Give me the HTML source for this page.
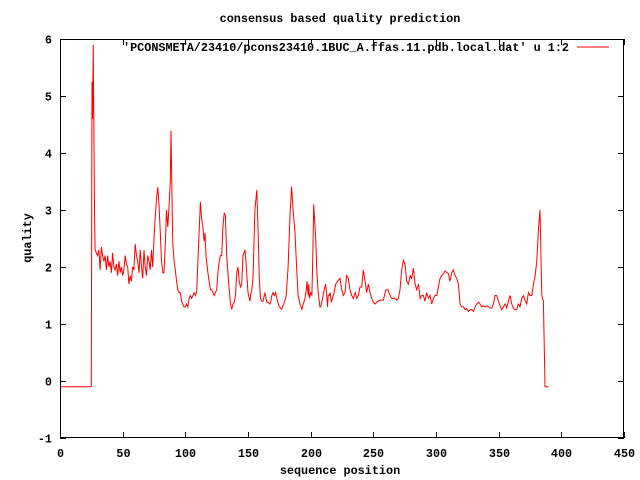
<!DOCTYPE html>
<html><head><meta charset="utf-8"><style>
html,body{margin:0;padding:0;background:#fff;}
svg{display:block;font-family:"Liberation Mono",monospace;font-size:11.8px;font-weight:bold;}
</style></head><body>
<svg id="chart" width="640" height="480" viewBox="0 0 640 480" xmlns="http://www.w3.org/2000/svg">
<rect x="0" y="0" width="640" height="480" fill="#fff"/>
<text x="340" y="22" text-anchor="middle">consensus based quality prediction</text>
<text x="340" y="474" text-anchor="middle">sequence position</text>
<text x="31" y="238" text-anchor="middle" transform="rotate(-90 31 238)">quality</text>
<g id="axes"></g>
<g id="series"></g>
<text x="569" y="51" text-anchor="end">'PCONSMETA/23410/pcons23410.1BUC_A.ffas.11.pdb.local.dat' u 1:2</text>
<line x1="577" y1="47" x2="609" y2="47" stroke="#f00" stroke-width="1"/>
<rect x="60.5" y="39.5" width="563" height="398" fill="none" stroke="#000" stroke-width="1"/>
</svg>
<script>
const xTicks=[0,50,100,150,200,250,300,350,400,450];
const yTicks=[-1,0,1,2,3,4,5,6];
const xs=[0,25,25.5,26,26.5,27,27.5,28,29,30,31,32,33,34,35,36,37,38,39,40,41,42,43,44,45,46,47,48,49,50,51,52,53,54,55,56,57,58,59,60,61,62,63,64,65,66,67,68,69,70,71,72,73,74,75,76,77,78,79,80,81,82,83,84,85,86,87,88,88.6,89.5,90,91,92,93,94,95,96,97,98,99,100,101,102,103,104,105,106,107,108,109,110,111,112,113,114,115,115.7,116.5,117,118,119,120,121,122,123,124,125,126,127,128,129,130,131,132,133,134,135,136,137,138,139,140,141,142,143,144,145,146,147.6,149,150,151.6,152,153,154,155.5,157,158,159,160,161,162,163.5,165,166,167.5,168.3,169,170,171,172,173.5,175,176.8,177.5,179,180.5,182,183.5,184.8,186,187.5,188.8,190,191.5,193,194.5,195.5,196.5,197,198,198.5,199,200,201,201.7,202.4,204,205,206,207.4,208,209.5,210.7,212,212.8,213.5,214,214.8,215.6,216.5,217.3,218.7,220,221.5,223.4,224.8,226,227.4,228.7,230,231.4,232.7,234,235.5,236.8,238,239.4,240.7,242,243.4,244.6,246,247.4,248.7,250,251.4,252.7,254,255.3,256.6,258,258.8,260.1,261.7,263.3,264.6,266,267.3,268.6,269.9,271.3,272.6,274,275.3,276.6,278,279.3,280.6,282,283.3,284.6,286,287.3,288.6,289.9,291.2,292.5,293.9,295.2,296.6,297.9,299.2,300.6,301.9,303.2,304.5,305.9,307.2,309.9,311.2,312.5,313.8,315.2,316.5,317.9,319.2,320.5,321.9,323.2,324.5,325.9,327.2,328.5,329.9,331.2,332.5,333.9,335.2,336.5,337.8,339.2,340.5,341.8,343.1,344.5,345.8,347.1,348.4,349.8,351.1,352.4,353.8,355.1,356.4,357.8,359.1,360.4,361.7,363,364.4,365.7,367,368.4,369.7,371,372.4,373.7,375,376.4,377.8,379.1,380.4,381.7,383,384.4,385.7,387,388.4,389.7,391,392.3,393.7,395,395.5,396,396.5,397,397.5,398,399,400];
const ys=[-0.1,-0.1,5.25,4.6,5.9,4.6,3.0,2.3,2.25,2.2,2.3,1.95,2.35,2.2,2.1,2.2,1.95,2.2,2.0,2.1,1.9,2.25,2.0,1.95,2.05,1.85,2.1,1.9,2.0,1.85,1.95,2.2,2.05,2.0,1.7,1.85,1.75,2.0,1.95,2.4,2.2,2.1,1.9,2.3,2.0,1.8,2.3,2.0,1.85,2.2,2.1,1.95,2.3,2.0,2.5,2.9,3.2,3.4,3.1,2.6,2.1,1.9,1.9,2.4,3.0,2.7,3.05,3.5,4.39,3.0,2.4,2.1,1.95,1.75,1.6,1.55,1.55,1.4,1.35,1.3,1.3,1.35,1.3,1.45,1.5,1.45,1.5,1.55,1.5,1.55,2.1,2.6,3.14,2.85,2.7,2.45,2.6,2.2,2.1,1.9,1.75,1.6,1.6,1.55,1.5,1.55,1.6,1.9,2.1,2.2,2.2,2.7,2.95,2.9,2.2,1.9,1.6,1.35,1.26,1.35,1.38,1.5,1.9,2.0,1.75,1.65,1.7,2.2,2.3,1.9,1.55,1.4,1.5,1.6,1.8,3.0,3.35,2.7,1.8,1.45,1.4,1.4,1.55,1.38,1.38,1.35,1.4,1.5,1.55,1.5,1.55,1.4,1.3,1.26,1.3,1.38,1.5,2.0,2.9,3.41,3.0,2.6,2.0,1.5,1.35,1.26,1.38,1.45,1.6,1.75,1.5,1.7,1.45,1.55,1.5,2.2,3.1,2.5,1.9,1.55,1.3,1.3,1.45,1.6,1.7,1.5,1.3,1.5,1.5,1.55,1.38,1.45,1.55,1.7,1.75,1.8,1.6,1.5,1.55,1.85,1.8,1.6,1.5,1.45,1.55,1.45,1.5,1.65,1.65,1.95,1.75,1.55,1.7,1.55,1.45,1.38,1.35,1.38,1.4,1.42,1.42,1.42,1.5,1.6,1.6,1.5,1.45,1.45,1.45,1.42,1.45,1.6,1.95,2.12,2.05,1.75,1.7,1.85,1.8,1.98,1.7,1.6,1.7,1.45,1.5,1.5,1.4,1.55,1.45,1.5,1.35,1.45,1.5,1.5,1.65,1.8,1.85,1.88,1.93,1.88,1.75,1.9,1.95,1.85,1.8,1.7,1.35,1.3,1.3,1.25,1.27,1.22,1.25,1.25,1.22,1.3,1.35,1.38,1.35,1.3,1.32,1.3,1.32,1.3,1.28,1.28,1.35,1.5,1.5,1.4,1.32,1.25,1.3,1.35,1.28,1.4,1.5,1.35,1.28,1.25,1.25,1.35,1.3,1.45,1.5,1.42,1.35,1.55,1.5,1.5,1.7,1.85,2.1,2.65,3.0,1.5,1.4,-0.1,-0.1,-0.1];
const X0=60,X1=624,Y0=438,Y1=39,XMAX=450,YMIN=-1,YMAX=6;
function sx(v){return X0+(v/XMAX)*(X1-X0);}
function sy(v){return Y0-(v-YMIN)/(YMAX-YMIN)*(Y0-Y1);}
const NS='http://www.w3.org/2000/svg';
const axes=document.getElementById('axes');
xTicks.forEach(t=>{
  const x=Math.round(sx(t))+0.5;
  for(const [a,b] of [[Y0,Y0-6],[Y1,Y1+6]]){
    const l=document.createElementNS(NS,'line');
    
    
    l.setAttribute('x1',x);l.setAttribute('x2',x);l.setAttribute('y1',a);l.setAttribute('y2',b);
    l.setAttribute('stroke','#000');axes.appendChild(l);
  }
  const tx=document.createElementNS(NS,'text');
  
  
  tx.setAttribute('x',x);tx.setAttribute('y',457);tx.setAttribute('text-anchor','middle');
  tx.textContent=t;axes.appendChild(tx);
});
yTicks.forEach(t=>{
  const y=Math.round(sy(t))+0.5;
  for(const [a,b] of [[X0,X0+6],[X1,X1-6]]){
    const l=document.createElementNS(NS,'line');
    
    
    l.setAttribute('x1',a);l.setAttribute('x2',b);l.setAttribute('y1',y);l.setAttribute('y2',y);
    l.setAttribute('stroke','#000');axes.appendChild(l);
  }
  const tx=document.createElementNS(NS,'text');
  
  
  tx.setAttribute('x',52);tx.setAttribute('y',y+4);tx.setAttribute('text-anchor','end');
  tx.textContent=t;axes.appendChild(tx);
});
const pts=xs.map((x,i)=>sx(x).toFixed(1)+','+sy(ys[i]).toFixed(1)).join(' ');
const pl=document.createElementNS(NS,'polyline');


pl.setAttribute('points',pts);pl.setAttribute('fill','none');pl.setAttribute('stroke','#f00');pl.setAttribute('stroke-width','1');
document.getElementById('series').appendChild(pl);
</script>
</body></html>
